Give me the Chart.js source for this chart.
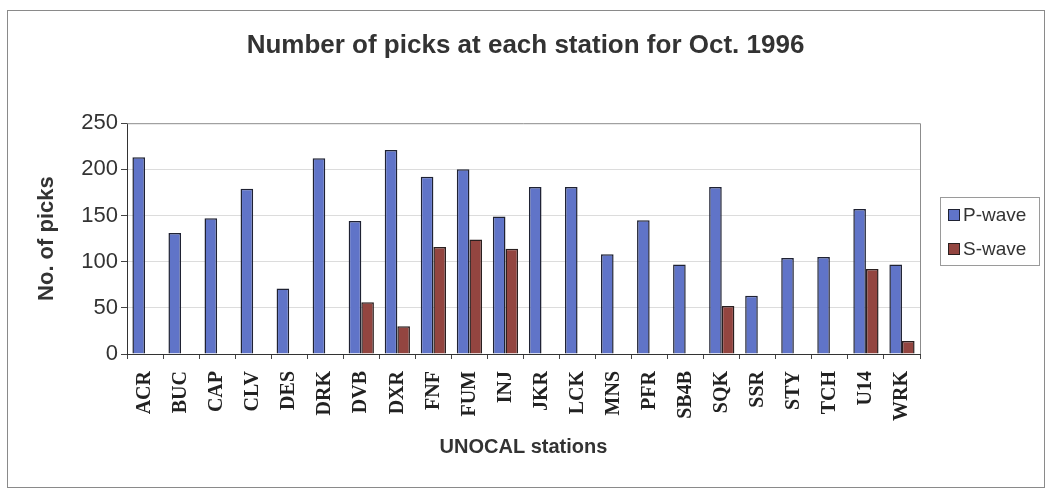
<!DOCTYPE html>
<html>
<head>
<meta charset="utf-8">
<script src="https://cdn.jsdelivr.net/npm/chart.js@4.4.1/dist/chart.umd.min.js"></script>
<style>
  html, body { margin: 0; padding: 0; background: #fff; }
  #wrap { position: relative; width: 1051px; height: 490px; }
  #frame {
    position: absolute; left: 7px; top: 10px; width: 1036px; height: 476px;
    border: 1px solid #8a8a8a; pointer-events: none;
  }
</style>
</head>
<body>
<div id="wrap">
  <canvas id="picksChart" width="1051" height="490"></canvas>
  <div id="frame"></div>
</div>
<script>
// ── Data ────────────────────────────────────────────

const stations = ['ACR', 'BUC', 'CAP', 'CLV', 'DES', 'DRK', 'DVB', 'DXR', 'FNF', 'FUM', 'INJ',
                  'JKR', 'LCK', 'MNS', 'PFR', 'SB4B', 'SQK', 'SSR', 'STY', 'TCH', 'U14', 'WRK'];

const pWave = [213, 131, 147, 179, 71, 212, 144, 221, 192, 200, 149,
               181, 181, 108, 145, 97, 181, 63, 104, 105, 157, 97];

const sWave = [null, null, null, null, null, null, 56, 30, 116, 124, 114,
               null, null, null, null, null, 52, null, null, null, 92, 14];

const yTicks = [0, 50, 100, 150, 200, 250];

const COLORS = {
  p: { bg: '#6074c8', border: '#1f2233' },
  s: { bg: '#934540', border: '#2a1f1f' },
};

const SANS = '"Liberation Sans", Arial, sans-serif';
const SERIF = '"Liberation Serif", "Times New Roman", serif';

// ── Plugins ─────────────────────────────────────────

// grey border on the top and right of the plot area
const plotFrame = {
  id: 'plotFrame',
  afterDraw(chart) {
    const { ctx, chartArea: a } = chart;
    ctx.save();
    ctx.strokeStyle = '#8c8c8c';
    ctx.lineWidth = 1;
    ctx.beginPath();
    ctx.moveTo(a.left, a.top + 0.5);
    ctx.lineTo(a.right + 0.5, a.top + 0.5);
    ctx.lineTo(a.right + 0.5, a.bottom);
    ctx.stroke();
    ctx.restore();
  },
};

// boxed legend to the right of the plot
const boxLegend = {
  id: 'boxLegend',
  afterDraw(chart) {
    const { ctx } = chart;
    const x = 940, y = 197, w = 99, h = 68;
    ctx.save();
    ctx.strokeStyle = '#9a9a9a';
    ctx.lineWidth = 1;
    ctx.strokeRect(x + 0.5, y + 0.5, w, h);
    ctx.font = `19px ${SANS}`;
    ctx.textBaseline = 'middle';
    chart.data.datasets.forEach((ds, i) => {
      const cy = y + 18 + i * 34;
      ctx.fillStyle = ds.backgroundColor;
      ctx.fillRect(x + 8, cy - 6, 12, 12);
      ctx.strokeStyle = ds.borderColor;
      ctx.strokeRect(x + 8.5, cy - 5.5, 11, 11);
      ctx.fillStyle = '#333';
      ctx.fillText(ds.label, x + 23, cy + 1);
    });
    ctx.restore();
  },
};

// ── Chart ───────────────────────────────────────────

new Chart(document.getElementById('picksChart'), {
  type: 'bar',
  data: {
    labels: stations,
    datasets: [
      {
        label: 'P-wave',
        data: pWave,
        backgroundColor: COLORS.p.bg,
        borderColor: COLORS.p.border,
        borderWidth: 1.5,
      },
      {
        label: 'S-wave',
        data: sWave,
        backgroundColor: COLORS.s.bg,
        borderColor: COLORS.s.border,
        borderWidth: 1.5,
      },
    ],
  },
  options: {
    responsive: false,
    animation: false,
    barPercentage: 1,
    categoryPercentage: 0.7,
    layout: { padding: { top: 10, left: 0, right: 0, bottom: 0 } },
    plugins: {
      legend: { display: false },
      tooltip: { enabled: false },
      title: {
        display: true,
        text: 'Number of picks at each station for Oct. 1996',
        color: '#333',
        font: { family: SANS, size: 26, weight: 'bold' },
        padding: { top: 20, bottom: 62 },
      },
    },
    scales: {
      x: {
        afterFit: (s) => { s.height = 136; },
        grid: {
          display: true,
          offset: true,
          drawOnChartArea: false,
          drawTicks: true,
          tickLength: 5,
          tickColor: '#444',
        },
        border: { color: '#333', width: 1 },
        ticks: {
          autoSkip: false,
          minRotation: 90,
          maxRotation: 90,
          padding: 12,
          color: '#222',
          font: { family: SERIF, size: 20, weight: 'bold' },
        },
        title: {
          display: true,
          text: 'UNOCAL stations',
          color: '#333',
          font: { family: SANS, size: 20, weight: 'bold' },
          padding: { top: 0, bottom: 31 },
        },
      },
      y: {
        min: 0,
        max: 250,
        afterFit: (s) => { s.width = 127; },
        afterBuildTicks: (s) => { s.ticks = yTicks.map(v => ({ value: v })); },
        grid: {
          color: (c) => (c.tick.value === 0 || c.tick.value === 250 ? 'rgba(0,0,0,0)' : '#dcdcdc'),
          tickColor: '#444',
          tickLength: 6,
        },
        border: { color: '#333', width: 1 },
        ticks: {
          padding: 3,
          color: '#333',
          font: { family: SANS, size: 22 },
        },
        title: {
          display: true,
          text: 'No. of picks',
          color: '#333',
          font: { family: SANS, size: 22, weight: 'bold' },
          padding: { top: 34, bottom: 0 },
        },
      },
      // empty right-hand axis that reserves room for the legend
      yRight: {
        type: 'linear',
        position: 'right',
        min: 0,
        max: 250,
        afterFit: (s) => { s.width = 131; },
        grid: { display: false },
        border: { display: false },
        ticks: { display: false },
      },
    },
  },
  plugins: [plotFrame, boxLegend],
});
</script>
</body>
</html>
